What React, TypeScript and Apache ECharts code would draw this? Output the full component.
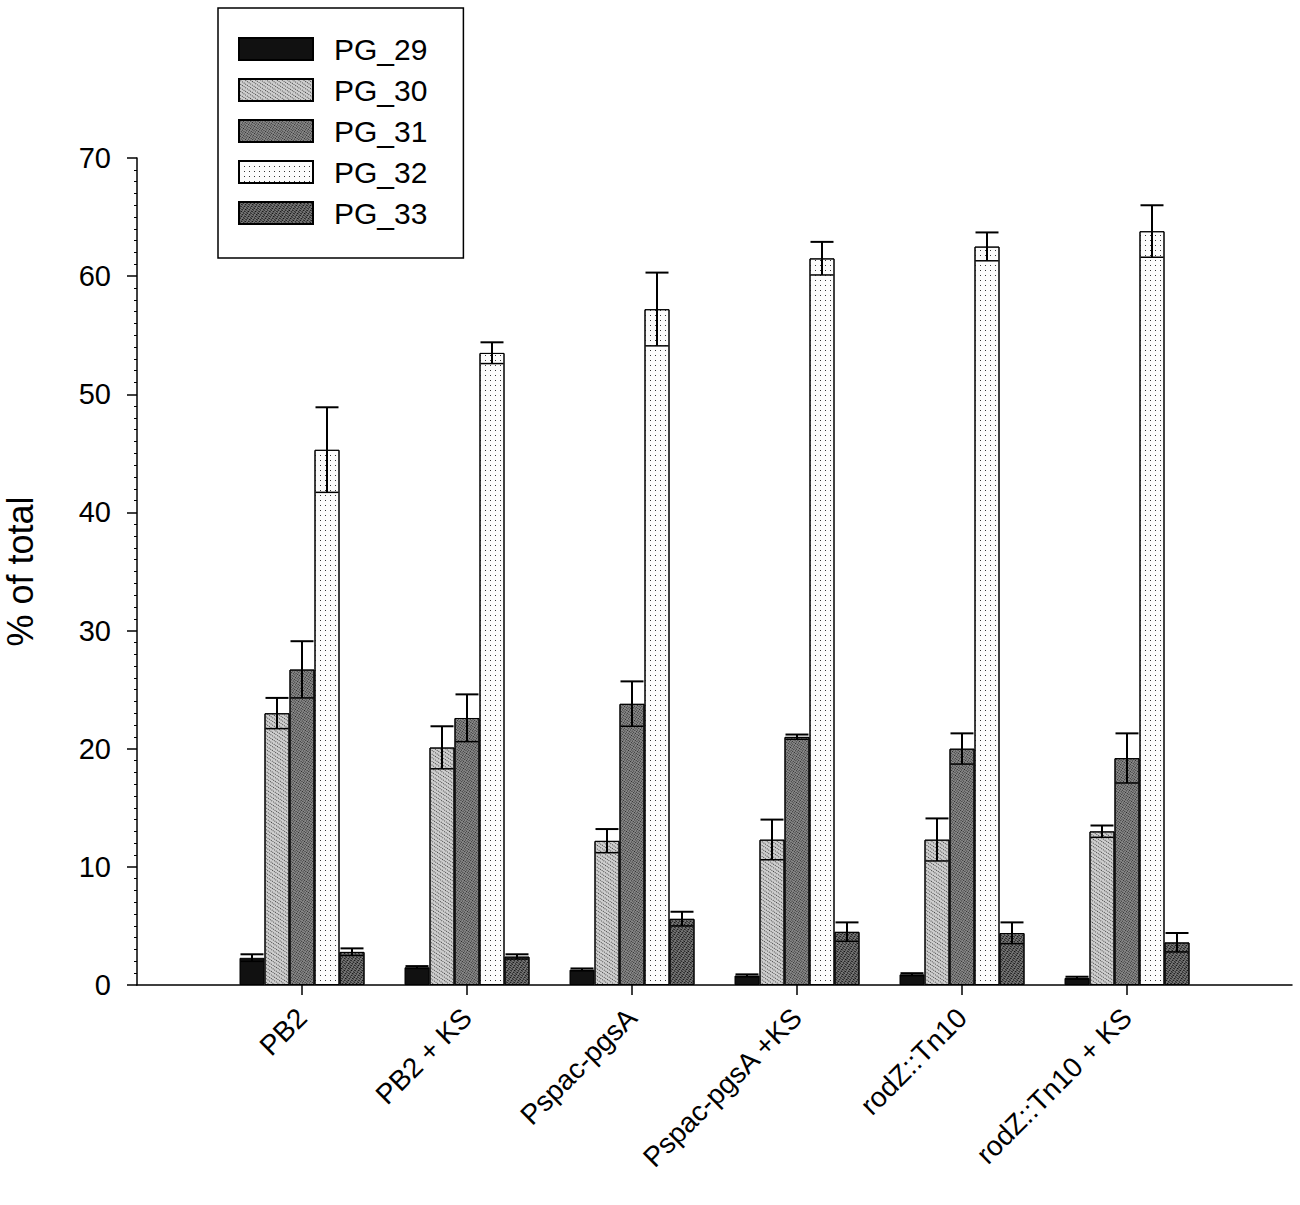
import React, { useEffect, useRef } from "react";
import * as echarts from "echarts";

// Category slots: empty slots at both ends so groups sit at positions 1..6 of 0..7
const categories = ["", "PB2", "PB2 + KS", "Pspac-pgsA", "Pspac-pgsA +KS", "rodZ::Tn10", "rodZ::Tn10 + KS", ""];
const seriesNames = ["PG_29", "PG_30", "PG_31", "PG_32", "PG_33"];

const pg29 = [null, 2.3, 1.5, 1.3, 0.8, 0.9, 0.6, null];
const pg30 = [null, 23.0, 20.1, 12.2, 12.3, 12.3, 13.0, null];
const pg31 = [null, 26.7, 22.6, 23.8, 21.0, 20.0, 19.2, null];
const pg32 = [null, 45.3, 53.5, 57.2, 61.5, 62.5, 63.8, null];
const pg33 = [null, 2.8, 2.4, 5.6, 4.5, 4.4, 3.6, null];

const pg29Err = [null, 0.3, 0.1, 0.1, 0.1, 0.1, 0.1, null];
const pg30Err = [null, 1.3, 1.8, 1.0, 1.7, 1.8, 0.5, null];
const pg31Err = [null, 2.4, 2.0, 1.9, 0.2, 1.3, 2.1, null];
const pg32Err = [null, 3.6, 0.9, 3.1, 1.4, 1.2, 2.2, null];
const pg33Err = [null, 0.3, 0.2, 0.6, 0.8, 0.9, 0.8, null];

const yMin = 0;
const yMax = 70;
const yInterval = 10;

const values = [pg29, pg30, pg31, pg32, pg33];
const errors = [pg29Err, pg30Err, pg31Err, pg32Err, pg33Err];

const FONT = 'Arial, "Liberation Sans", sans-serif';
const BAR_W = 25;

const fills = ["#111111", "#cfcfcf", "#8a8a8a", "#fbfbfb", "#7a7a7a"];
const decals: any[] = [
  null,
  { symbol: "rect", symbolSize: 1, color: "#444", dashArrayX: [1, 1], dashArrayY: [1, 2], rotation: 0.6 },
  { symbol: "rect", symbolSize: 1, color: "#222", dashArrayX: [1, 1], dashArrayY: [1, 1], rotation: 0.6 },
  { symbol: "rect", symbolSize: 1, color: "#333", dashArrayX: [1, 4], dashArrayY: [1, 4] },
  { symbol: "rect", symbolSize: 1, color: "#111", dashArrayX: [2, 1], dashArrayY: [1, 1], rotation: 0.6 },
];

export default function App() {
  const ref = useRef<HTMLDivElement>(null);
  useEffect(() => {
    if (!ref.current) return;
    const chart = echarts.init(ref.current, null, { renderer: "svg" });

    const barSeries = seriesNames.map((name, i) => ({
      name,
      type: "bar",
      data: values[i],
      barWidth: BAR_W,
      barGap: "0%",
      itemStyle: {
        color: fills[i],
        borderColor: "#000",
        borderWidth: 1,
        ...(decals[i] ? { decal: decals[i] } : {}),
      },
      z: 2,
    }));

    const errData: any[] = [];
    values.forEach((arr, s) => {
      arr.forEach((v, c) => {
        if (v != null && errors[s][c] != null) errData.push([c, s, v, errors[s][c]]);
      });
    });

    const errSeries = {
      name: "err",
      type: "custom",
      z: 5,
      data: errData,
      encode: { x: 0, y: 2 },
      renderItem: (params: any, api: any) => {
        const c = api.value(0);
        const s = api.value(1);
        const v = api.value(2);
        const e = api.value(3);
        const x = api.coord([c, v])[0] + (s - 2) * BAR_W;
        const yHi = api.coord([c, v + e])[1];
        const yLo = api.coord([c, v - e])[1];
        const half = BAR_W / 2 - 1;
        const st = { stroke: "#000", lineWidth: 2 };
        return {
          type: "group",
          children: [
            { type: "line", shape: { x1: x, y1: yLo, x2: x, y2: yHi }, style: st },
            { type: "line", shape: { x1: x - half, y1: yHi, x2: x + half, y2: yHi }, style: st },
            { type: "line", shape: { x1: x - half, y1: yLo, x2: x + half, y2: yLo }, style: { stroke: "#000", lineWidth: 1.5 } },
          ],
        };
      },
    };

    chart.setOption({
      animation: false,
      backgroundColor: "#fff",
      grid: { left: 137, right: 8, top: 158, bottom: 220, containLabel: false, outerBoundsMode: "none" },
      legend: {
        data: seriesNames,
        orient: "vertical",
        left: 218,
        top: 8,
        icon: "rect",
        itemWidth: 74,
        itemHeight: 22,
        itemGap: 11,
        padding: [26, 36, 30, 20],
        borderColor: "#000",
        borderWidth: 1.5,
        textStyle: { fontSize: 30, color: "#000", fontFamily: FONT, padding: [0, 0, 0, 16] },
      },
      xAxis: {
        type: "category",
        data: categories,
        boundaryGap: false,
        axisLine: { lineStyle: { color: "#000", width: 1.5 } },
        axisTick: {
          show: true,
          length: 10,
          interval: (idx: number, val: string) => val !== "",
          lineStyle: { color: "#000", width: 1.5 },
        },
        axisLabel: {
          interval: 0,
          rotate: 45,
          fontSize: 28,
          color: "#000",
          fontFamily: FONT,
          margin: 28,
        },
        splitLine: { show: false },
      },
      yAxis: {
        type: "value",
        min: yMin,
        max: yMax,
        interval: yInterval,
        name: "% of total",
        nameLocation: "middle",
        nameRotate: 90,
        nameGap: 99,
        nameTextStyle: { fontSize: 36, color: "#000", fontFamily: FONT },
        axisLine: { show: true, lineStyle: { color: "#000", width: 1.5 } },
        axisTick: { show: true, length: 10, lineStyle: { color: "#000", width: 1.5 } },
        minorTick: { show: true, splitNumber: 10, length: 3, lineStyle: { color: "#000", width: 1 } },
        axisLabel: { fontSize: 29, color: "#000", fontFamily: FONT, margin: 26 },
        splitLine: { show: false },
      },
      series: [...barSeries, errSeries],
    });
    return () => chart.dispose();
  }, []);
  return <div ref={ref} style={{ position: "fixed", left: 0, top: 0, width: 1300, height: 1205 }} />;
}
